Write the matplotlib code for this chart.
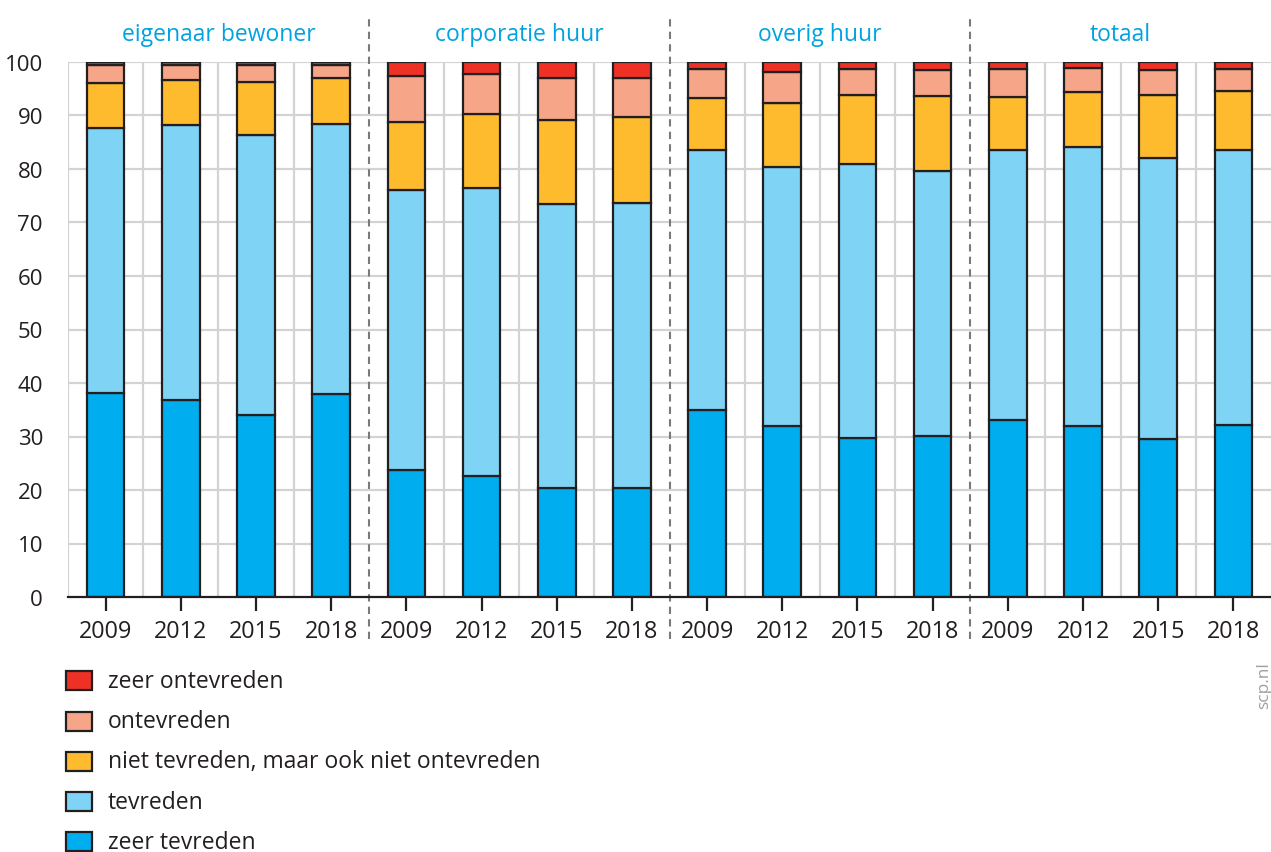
import matplotlib
matplotlib.use("Agg")
import matplotlib.pyplot as plt
import numpy as np
from matplotlib.patches import Rectangle

plt.rcParams['font.family'] = ['Open Sans', 'DejaVu Sans']

groups = ["eigenaar bewoner", "corporatie huur", "overig huur", "totaal"]
years = ["2009", "2012", "2015", "2018"]

series_names = ["zeer tevreden", "tevreden", "niet tevreden, maar ook niet ontevreden",
                "ontevreden", "zeer ontevreden"]

zeer_tevreden = [38.2, 36.9, 34.0, 38.0,
                 23.8, 22.6, 20.3, 20.4,
                 34.9, 31.9, 29.7, 30.1,
                 33.0, 32.0, 29.5, 32.2]
tevreden = [49.4, 51.4, 52.4, 50.4,
            52.2, 53.9, 53.2, 53.3,
            48.6, 48.5, 51.3, 49.6,
            50.5, 52.1, 52.6, 51.3]
niet_niet = [8.4, 8.3, 9.9, 8.6,
             12.7, 13.7, 15.6, 16.0,
             9.7, 12.0, 12.8, 13.9,
             9.9, 10.3, 11.8, 11.1]
ontevreden = [3.5, 2.9, 3.1, 2.5,
              8.6, 7.5, 8.0, 7.3,
              5.5, 5.8, 4.9, 4.9,
              5.3, 4.4, 4.6, 4.1]
zeer_ontevreden = [0.5, 0.5, 0.6, 0.5,
                   2.7, 2.3, 2.9, 3.0,
                   1.3, 1.8, 1.3, 1.5,
                   1.3, 1.2, 1.5, 1.3]

colors = ["#00aeef", "#7fd3f5", "#fdbb2d", "#f6a589", "#ee3124"]
edge = "#231f20"
text_col = "#231f20"
title_col = "#00a3e0"

W, H = 1271, 853
fig = plt.figure(figsize=(W / 100, H / 100), dpi=100)
ax = fig.add_axes([68 / W, (H - 598) / H, (W - 68) / W, (598 - 63) / H])

n = len(groups) * len(years)
x = np.arange(n)
data = [zeer_tevreden, tevreden, niet_niet, ontevreden, zeer_ontevreden]
bottom = np.zeros(n)
for vals, c, name in zip(data, colors, series_names):
    vals = np.array(vals)
    ax.bar(x, vals, width=0.5, bottom=bottom, color=c, edgecolor=edge,
           linewidth=1.6, zorder=3, label=name)
    bottom += vals

ax.set_xlim(-0.5, n - 0.5)
ax.set_ylim(0, 100)

# grid
ax.set_yticks(np.arange(0, 101, 10))
ax.set_yticklabels([str(v) for v in range(0, 101, 10)], fontsize=16, color=text_col)
ax.tick_params(axis='y', length=0, pad=18)
for v in range(10, 101, 10):
    ax.axhline(v, color="#d3d3d3", lw=1.6, zorder=1)
for i in range(n):
    xv = i - 0.5
    if i in (4, 8, 12):
        continue
    ax.plot([xv, xv], [0, 100], color="#d3d3d3", lw=1.6, zorder=1)
for xv in (3.5, 7.5, 11.5):
    ax.plot([xv, xv], [-7.9, 108.2], color="#7a7a7a", lw=1.5, ls=(0, (3.5, 2.5)),
            zorder=2, clip_on=False)

ax.set_xticks(x)
ax.set_xticklabels(years * len(groups), fontsize=16.8, color=text_col)
ax.tick_params(axis='x', length=10, width=1.6, color=edge, pad=6, direction='out')

for s in ["top", "right", "left"]:
    ax.spines[s].set_visible(False)
ax.spines["bottom"].set_color(edge)
ax.spines["bottom"].set_linewidth(1.6)
ax.spines["bottom"].set_zorder(4)

# group titles
for gi, g in enumerate(groups):
    ax.text(gi * 4 + 1.5, 105.3, g, ha='center', va='center', fontsize=16.5,
            color=title_col, clip_on=False)

# legend (manual)
leg_order = list(range(len(series_names)))[::-1]
for row, si in enumerate(leg_order):
    yc = 681.7 + row * 40.3
    fig.add_artist(Rectangle((66 / W, (H - yc - 9.5) / H), 26 / W, 19 / H,
                             transform=fig.transFigure, facecolor=colors[si],
                             edgecolor=edge, linewidth=1.6))
    fig.text(108 / W, (H - yc) / H, series_names[si], fontsize=16.5,
             color=text_col, va='center', ha='left')

fig.text(1264 / W, (H - 686) / H, "scp.nl", rotation=90, fontsize=12.5,
         color="#a0a0a0", ha='center', va='center')

fig.savefig("out.png", dpi=100)
